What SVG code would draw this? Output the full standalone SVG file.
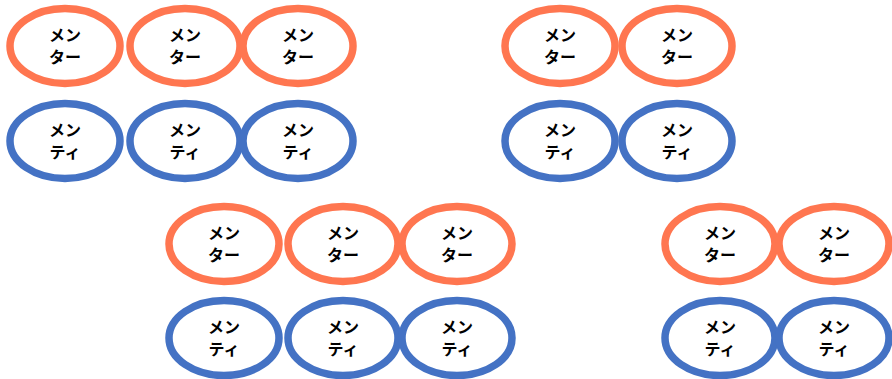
<svg xmlns="http://www.w3.org/2000/svg" width="892" height="379" viewBox="0 0 892 379">
<style>
.mentor{fill:#ffffff;stroke:#FF7650;stroke-width:7.5}
.mentee{fill:#ffffff;stroke:#4472C4;stroke-width:7.5}
.lbl{font-family:"Noto Sans CJK JP","Noto Sans",sans-serif;font-weight:bold;font-size:16px;fill:#000000;text-anchor:middle}
</style>
<rect width="892" height="379" fill="#ffffff"/>
<g id="connectors"/>
<g id="group-top-left">
<g id="tl-mentor-1"><ellipse class="mentor" cx="65" cy="46" rx="55" ry="37.5"/><text class="lbl"><tspan x="65" y="41">メン</tspan><tspan x="65" y="63">ター</tspan></text></g>
<g id="tl-mentor-2"><ellipse class="mentor" cx="185" cy="46" rx="55" ry="37.5"/><text class="lbl"><tspan x="185" y="41">メン</tspan><tspan x="185" y="63">ター</tspan></text></g>
<g id="tl-mentor-3"><ellipse class="mentor" cx="298" cy="46" rx="55" ry="37.5"/><text class="lbl"><tspan x="298" y="41">メン</tspan><tspan x="298" y="63">ター</tspan></text></g>
<g id="tl-mentee-1"><ellipse class="mentee" cx="65" cy="141" rx="55" ry="37.5"/><text class="lbl"><tspan x="65" y="136">メン</tspan><tspan x="65" y="158">ティ</tspan></text></g>
<g id="tl-mentee-2"><ellipse class="mentee" cx="185" cy="141" rx="55" ry="37.5"/><text class="lbl"><tspan x="185" y="136">メン</tspan><tspan x="185" y="158">ティ</tspan></text></g>
<g id="tl-mentee-3"><ellipse class="mentee" cx="298" cy="141" rx="55" ry="37.5"/><text class="lbl"><tspan x="298" y="136">メン</tspan><tspan x="298" y="158">ティ</tspan></text></g>
</g>
<g id="group-top-right">
<g id="tr-mentor-1"><ellipse class="mentor" cx="560" cy="46" rx="55" ry="37.5"/><text class="lbl"><tspan x="560" y="41">メン</tspan><tspan x="560" y="63">ター</tspan></text></g>
<g id="tr-mentor-2"><ellipse class="mentor" cx="677" cy="46" rx="55" ry="37.5"/><text class="lbl"><tspan x="677" y="41">メン</tspan><tspan x="677" y="63">ター</tspan></text></g>
<g id="tr-mentee-1"><ellipse class="mentee" cx="560" cy="141" rx="55" ry="37.5"/><text class="lbl"><tspan x="560" y="136">メン</tspan><tspan x="560" y="158">ティ</tspan></text></g>
<g id="tr-mentee-2"><ellipse class="mentee" cx="677" cy="141" rx="55" ry="37.5"/><text class="lbl"><tspan x="677" y="136">メン</tspan><tspan x="677" y="158">ティ</tspan></text></g>
</g>
<g id="group-bottom-left">
<g id="bl-mentor-1"><ellipse class="mentor" cx="224" cy="244" rx="55" ry="37.5"/><text class="lbl"><tspan x="224" y="239">メン</tspan><tspan x="224" y="261">ター</tspan></text></g>
<g id="bl-mentor-2"><ellipse class="mentor" cx="343" cy="244" rx="55" ry="37.5"/><text class="lbl"><tspan x="343" y="239">メン</tspan><tspan x="343" y="261">ター</tspan></text></g>
<g id="bl-mentor-3"><ellipse class="mentor" cx="457" cy="244" rx="55" ry="37.5"/><text class="lbl"><tspan x="457" y="239">メン</tspan><tspan x="457" y="261">ター</tspan></text></g>
<g id="bl-mentee-1"><ellipse class="mentee" cx="224" cy="338" rx="55" ry="37.5"/><text class="lbl"><tspan x="224" y="333">メン</tspan><tspan x="224" y="355">ティ</tspan></text></g>
<g id="bl-mentee-2"><ellipse class="mentee" cx="343" cy="338" rx="55" ry="37.5"/><text class="lbl"><tspan x="343" y="333">メン</tspan><tspan x="343" y="355">ティ</tspan></text></g>
<g id="bl-mentee-3"><ellipse class="mentee" cx="457" cy="338" rx="55" ry="37.5"/><text class="lbl"><tspan x="457" y="333">メン</tspan><tspan x="457" y="355">ティ</tspan></text></g>
</g>
<g id="group-bottom-right">
<g id="br-mentor-1"><ellipse class="mentor" cx="720" cy="244" rx="55" ry="37.5"/><text class="lbl"><tspan x="720" y="239">メン</tspan><tspan x="720" y="261">ター</tspan></text></g>
<g id="br-mentor-2"><ellipse class="mentor" cx="834" cy="244" rx="55" ry="37.5"/><text class="lbl"><tspan x="834" y="239">メン</tspan><tspan x="834" y="261">ター</tspan></text></g>
<g id="br-mentee-1"><ellipse class="mentee" cx="720" cy="338" rx="55" ry="37.5"/><text class="lbl"><tspan x="720" y="333">メン</tspan><tspan x="720" y="355">ティ</tspan></text></g>
<g id="br-mentee-2"><ellipse class="mentee" cx="834" cy="338" rx="55" ry="37.5"/><text class="lbl"><tspan x="834" y="333">メン</tspan><tspan x="834" y="355">ティ</tspan></text></g>
</g>
</svg>
